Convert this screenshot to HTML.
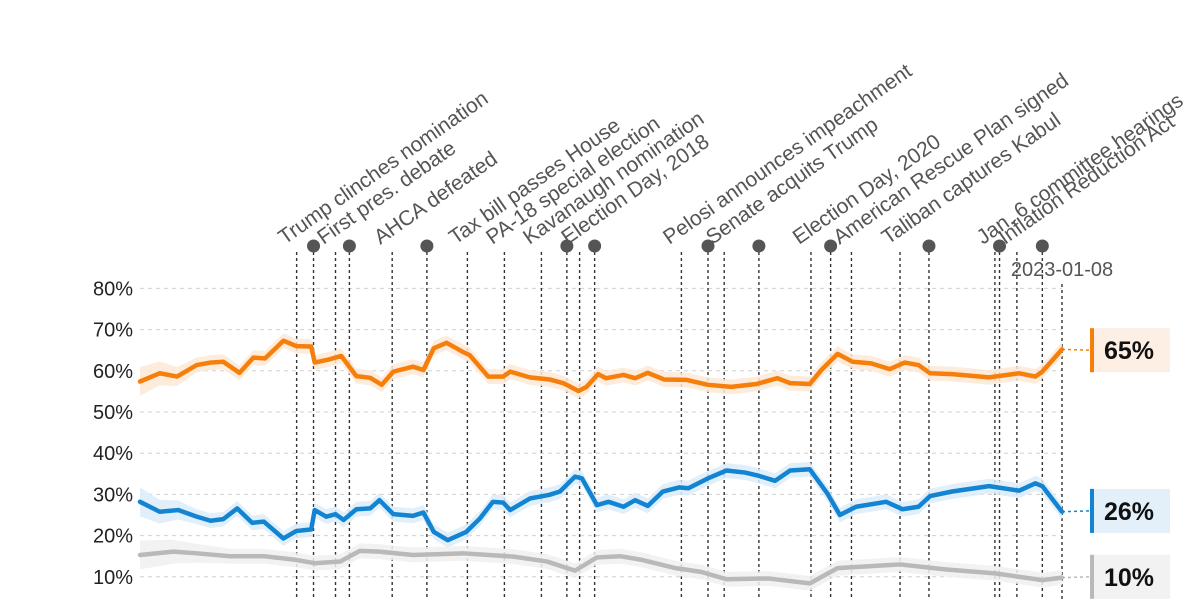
<!DOCTYPE html>
<html><head><meta charset="utf-8"><style>
html,body{margin:0;padding:0;background:#fff;}
svg{display:block;font-family:"Liberation Sans",sans-serif;}
</style></head><body>
<svg id="chart" width="1200" height="600" viewBox="0 0 1200 600" xmlns="http://www.w3.org/2000/svg">
<g id="grid"></g>
<g id="yaxis"></g>
<g id="events"></g>
<g id="bands"></g>
<g id="lines"></g>
<g id="endlabels"></g>
</svg>
<script>
const NS="http://www.w3.org/2000/svg";
// years since 2015-01-01
const orangeT=[0,.17,.32,.49,.61,.72,.86,.98,1.08,1.24,1.35,1.48,1.51,1.64,1.74,1.87,1.99,2.09,2.19,2.36,2.45,2.54,2.65,2.79,2.85,3.01,3.14,3.20,3.37,3.54,3.66,3.79,3.86,3.96,4.03,4.18,4.28,4.39,4.53,4.72,4.91,5.11,5.33,5.51,5.62,5.79,5.89,6.03,6.16,6.32,6.48,6.61,6.73,6.83,7.02,7.34,7.60,7.74,7.80,7.97];
const orangeV=[57.4,59.4,58.6,61.4,62,62.2,59.5,63.2,63,67.3,66,65.9,62,62.8,63.6,58.7,58.3,56.6,59.8,61,60.2,65.5,66.8,64.6,63.8,58.6,58.6,59.8,58.4,57.9,57,55.1,56.1,59.2,58.2,59,58.2,59.5,57.9,57.8,56.6,56.1,56.8,58.2,57,56.8,60.2,64.1,62.2,61.8,60.4,62,61.4,59.4,59.2,58.4,59.4,58.6,59.8,65.2];
const blueT=[0,.17,.33,.49,.61,.72,.84,.97,1.07,1.24,1.35,1.48,1.51,1.61,1.69,1.76,1.87,1.99,2.07,2.19,2.36,2.45,2.54,2.66,2.82,2.94,3.05,3.14,3.20,3.37,3.54,3.63,3.76,3.82,3.95,4.05,4.18,4.28,4.39,4.52,4.66,4.74,4.91,5.07,5.23,5.35,5.49,5.62,5.79,5.94,6.05,6.19,6.45,6.59,6.73,6.83,7.02,7.34,7.60,7.74,7.80,7.97];
const blueV=[28.2,25.8,26.2,24.6,23.6,24,26.6,23.1,23.4,19.3,21.1,21.5,26.2,24.6,25.2,23.8,26.4,26.6,28.6,25.2,24.8,25.6,20.9,18.9,20.9,24.2,28.2,28,26.2,29,29.9,30.7,34.3,33.9,27.4,28.2,27,28.6,27.2,30.7,31.7,31.5,33.9,35.8,35.3,34.5,33.3,35.8,36.1,30.3,25,27,28.2,26.4,27,29.6,30.7,32,30.9,32.7,32,25.8];
const greyT=[0,.29,.49,.78,1.07,1.35,1.51,1.73,1.90,2.07,2.36,2.79,3.23,3.52,3.76,3.95,4.15,4.34,4.63,4.85,5.07,5.43,5.79,6.03,6.57,6.96,7.40,7.80,7.97];
const greyV=[15.3,16.1,15.7,15,15,14.1,13.3,13.7,16.3,16.1,15.3,15.7,14.9,13.7,11.5,14.7,15,14.1,12.1,11.2,9.4,9.6,8.4,12.1,13,11.8,10.8,9.2,9.8];
const yTicks=[10,20,30,40,50,60,70,80];
const eventT=[1.354,1.69,2.18,2.83,3.15,3.47,3.80,4.68,5.05,5.80,6.15,6.57,7.39,7.58];
const eventLabels=["Trump clinches nomination","First pres. debate","AHCA defeated","Tax bill passes House","PA-18 special election","Kavanaugh nomination","Election Day, 2018","Pelosi announces impeachment","Senate acquits Trump","Election Day, 2020","American Rescue Plan signed","Taliban captures Kabul","Jan. 6 committee hearings","Inflation Reduction Act"];
const dotT=[1.50,1.81,2.48,3.69,3.93,4.91,5.35,5.97,6.82,7.43,7.80];
const endT=7.97;
const endLabel="2023-01-08";
const finalValues=[65,26,10];
const finalTexts=["65%","26%","10%"];

const x=t=>140+(t/7.97)*922;
const y=v=>618-4.12*v;
function el(tag,attrs,parent){const e=document.createElementNS(NS,tag);for(const k in attrs)e.setAttribute(k,attrs[k]);parent.appendChild(e);return e;}
const G=document.getElementById('grid'),Y=document.getElementById('yaxis'),E=document.getElementById('events'),B=document.getElementById('bands'),L=document.getElementById('lines'),R=document.getElementById('endlabels');

yTicks.forEach(v=>{
  const g=el('line',{x1:140,x2:1062,y1:y(v),y2:y(v),stroke:'#d0d0d0','stroke-width':1,'stroke-dasharray':'4,4'},G);
  
  
  const t=el('text',{x:133,y:y(v)+7,'text-anchor':'end','font-size':20,fill:'#222'},Y);
  t.textContent=v+'%';
  
  
});

eventT.forEach((t,i)=>{
  const l=el('line',{x1:x(t),x2:x(t),y1:252,y2:600,stroke:'#333','stroke-width':1.4,'stroke-dasharray':'3,3'},E);
  
  
  const tx=el('text',{transform:`translate(${x(t)-12},245) rotate(-35)`,'font-size':21,fill:'#555'},E);
  tx.textContent=eventLabels[i];
  
  
});
dotT.forEach(t=>{
  const l=el('line',{x1:x(t),x2:x(t),y1:246,y2:600,stroke:'#333','stroke-width':1.4,'stroke-dasharray':'3,3'},E);
  
  
  const c=el('circle',{cx:x(t),cy:246,r:6.5,fill:'#555'},E);
  
  
});
{
  const l=el('line',{x1:x(endT),x2:x(endT),y1:284,y2:600,stroke:'#333','stroke-width':1.4,'stroke-dasharray':'3,3'},E);
  
  
  const tx=el('text',{x:x(endT),y:276,'text-anchor':'middle','font-size':20,fill:'#555'},E);
  tx.textContent=endLabel;
  
  
}

const series=[
  {T:orangeT,V:orangeV,c:'#f57f0a',band:'#fde8d6',name:'approve',bg:'#fdefe3'},
  {T:blueT,V:blueV,c:'#1384d2',band:'#dcecf9',name:'disapprove',bg:'#e3f0fa'},
  {T:greyT,V:greyV,c:'#b9b9b9',band:'#f0f0f0',name:'unsure',bg:'#f2f2f2'}
];
series.forEach((s,si)=>{
  const n=s.T.length;
  const m=i=>i<3?3.5-i*0.6:1.8;
  let up=[],dn=[];
  for(let i=0;i<n;i++){up.push(x(s.T[i])+','+y(s.V[i]+m(i)));dn.unshift(x(s.T[i])+','+y(s.V[i]-m(i)));}
  const b=el('polygon',{points:up.concat(dn).join(' '),fill:s.band,opacity:0.85},B);
  
  
  const pts=s.T.map((t,i)=>x(t)+','+y(s.V[i])).join(' ');
  const p=el('polyline',{points:pts,fill:'none',stroke:s.c,'stroke-width':4.5,'stroke-linejoin':'round','stroke-linecap':'round'},L);
  
  
  const fy=y(s.V[n-1]);
  const ly=y(finalValues[si]);
  const c=el('line',{x1:1062,x2:1090,y1:fy,y2:ly,stroke:s.c,'stroke-width':1.5,'stroke-dasharray':'3,3'},R);
  
  
  const r=el('rect',{x:1090,y:ly-22,width:80,height:44,fill:s.bg},R);
  
  
  const bar=el('rect',{x:1090,y:ly-22,width:4,height:44,fill:s.c},R);
  
  
  const tx=el('text',{x:1104,y:ly+9,'font-size':25,'font-weight':'bold',fill:'#111'},R);
  tx.textContent=finalTexts[si];
  
  
});
</script>
</body></html>
